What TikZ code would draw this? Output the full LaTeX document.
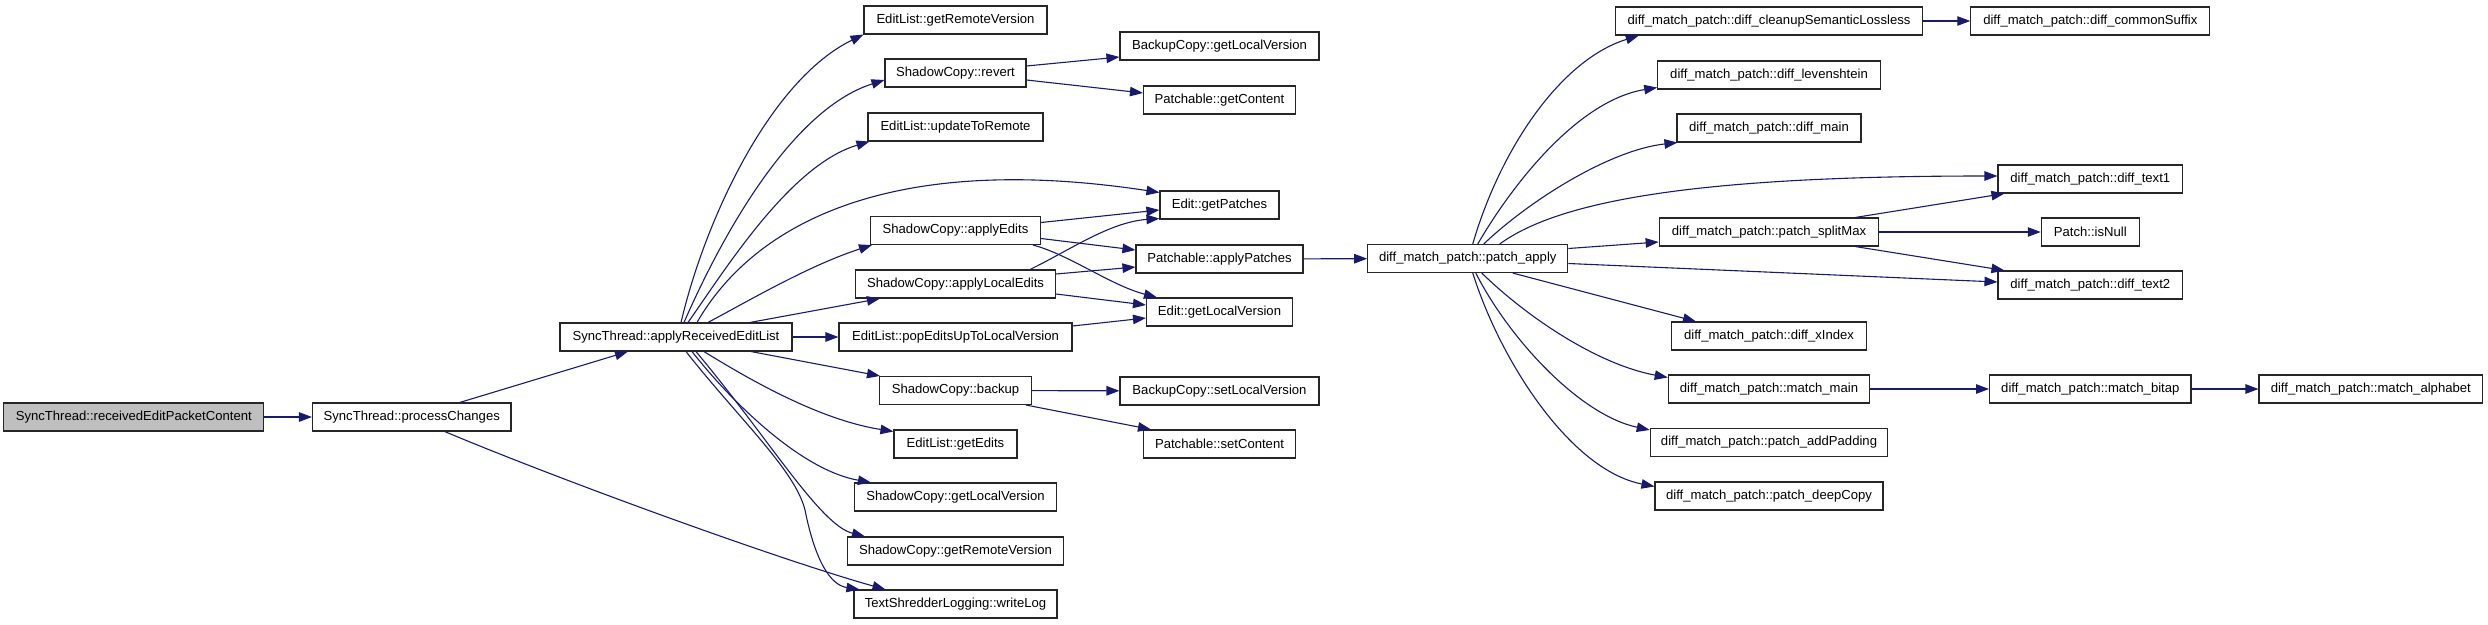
\documentclass[tikz,border=0pt]{standalone}
\usepackage{fontspec}
\setmainfont{Liberation Sans}
\usetikzlibrary{arrows.meta,calc}
\definecolor{edgec}{HTML}{191970}
\definecolor{rootfill}{HTML}{BFBFBF}
\begin{document}
\begin{tikzpicture}[x=1pt,y=-1pt,
  fn/.style={draw=black!85, line width=1.1pt, minimum height=28pt, inner sep=0pt,
             font=\fontsize{13.1}{15}\selectfont, anchor=center, fill=white},
  call/.style={draw=edgec, line width=1.1pt, -{Triangle[length=13pt,width=9.5pt]}}]
\useasboundingbox (0,0) rectangle (2488,624);

% column 0/1/2
\node[fn, fill=rootfill, minimum width=260] (rec) at (133.8,417) {SyncThread::receivedEditPacketContent};
\node[fn, minimum width=198.5] (pc) at (411.75,417) {SyncThread::processChanges};
\node[fn, minimum width=232] (ar) at (676,337) {SyncThread::applyReceivedEditList};

% column 3
\node[fn, minimum width=183] (grv) at (955.5,20) {EditList::getRemoteVersion};
\node[fn, minimum width=141] (rev) at (955.5,73) {ShadowCopy::revert};
\node[fn, minimum width=175] (utr) at (955.5,127) {EditList::updateToRemote};
\node[fn, minimum width=170] (ae) at (955.5,230.5) {ShadowCopy::applyEdits};
\node[fn, minimum width=200] (ale) at (955.5,284) {ShadowCopy::applyLocalEdits};
\node[fn, minimum width=233] (pop) at (955.5,337) {EditList::popEditsUpToLocalVersion};
\node[fn, minimum width=152] (bk) at (955.5,390.5) {ShadowCopy::backup};
\node[fn, minimum width=123] (ge) at (955.5,444) {EditList::getEdits};
\node[fn, minimum width=202] (sglv) at (955.5,497) {ShadowCopy::getLocalVersion};
\node[fn, minimum width=216] (sgrv) at (955.5,551) {ShadowCopy::getRemoteVersion};
\node[fn, minimum width=203] (wl) at (955.5,604) {TextShredderLogging::writeLog};

% column 4
\node[fn, minimum width=199] (bglv) at (1219.5,46) {BackupCopy::getLocalVersion};
\node[fn, minimum width=152] (pgc) at (1219.5,100) {Patchable::getContent};
\node[fn, minimum width=119] (gp) at (1219.5,205) {Edit::getPatches};
\node[fn, minimum width=167] (ap) at (1219.5,259) {Patchable::applyPatches};
\node[fn, minimum width=146] (elv) at (1219.5,312) {Edit::getLocalVersion};
\node[fn, minimum width=199] (bslv) at (1219.5,391) {BackupCopy::setLocalVersion};
\node[fn, minimum width=152] (psc) at (1219.5,444) {Patchable::setContent};

% column 5
\node[fn, minimum width=200] (pa) at (1467.75,258.5) {diff\_match\_patch::patch\_apply};

% column 6
\node[fn, minimum width=307.4] (csl) at (1769,21) {diff\_match\_patch::diff\_cleanupSemanticLossless};
\node[fn, minimum width=222.5] (lev) at (1769,75) {diff\_match\_patch::diff\_levenshtein};
\node[fn, minimum width=184] (dm) at (1769,128) {diff\_match\_patch::diff\_main};
\node[fn, minimum width=219.6] (sm) at (1769,232) {diff\_match\_patch::patch\_splitMax};
\node[fn, minimum width=195] (xi) at (1769,336) {diff\_match\_patch::diff\_xIndex};
\node[fn, minimum width=201.5] (mm) at (1769,389) {diff\_match\_patch::match\_main};
\node[fn, minimum width=237.5] (apad) at (1769,442.5) {diff\_match\_patch::patch\_addPadding};
\node[fn, minimum width=228] (dc) at (1769,496) {diff\_match\_patch::patch\_deepCopy};

% column 7
\node[fn, minimum width=239] (cs) at (2090.3,21) {diff\_match\_patch::diff\_commonSuffix};
\node[fn, minimum width=184.6] (t1) at (2090.3,179) {diff\_match\_patch::diff\_text1};
\node[fn, minimum width=98] (isn) at (2090.3,232) {Patch::isNull};
\node[fn, minimum width=184.6] (t2) at (2090.3,285) {diff\_match\_patch::diff\_text2};
\node[fn, minimum width=201.4] (mb) at (2090.3,389) {diff\_match\_patch::match\_bitap};

% column 8
\node[fn, minimum width=223.5] (mal) at (2370.75,389) {diff\_match\_patch::match\_alphabet};

% edges
\draw[call] (rec) -- (pc);
\draw[call] (pc) -- (ar);
\draw[call] ([xshift=33pt]pc.south) .. controls (560,480) and (780,560) .. ([xshift=32pt]wl.north west);

\draw[call] ([xshift=5pt]ar.north) .. controls (705,220) and (770,80) .. (grv.south west);
\draw[call] ([xshift=8pt]ar.north) .. controls (720,240) and (790,110) .. ([yshift=-7pt]rev.west);
\draw[call] ([xshift=12pt]ar.north) .. controls (725,270) and (790,165) .. ([xshift=2pt]utr.south west);
\draw[call] ([xshift=21pt]ar.north) .. controls (750,230) and (880,150) .. ([yshift=-2pt]gp.north west);
\draw[call] ([xshift=32pt]ar.north) .. controls (750,300) and (810,265) .. ([xshift=2pt]ae.south west);
\draw[call] ([xshift=74pt]ar.north) -- ([xshift=25pt]ale.south west);
\draw[call] (ar) -- (pop);
\draw[call] ([xshift=75pt]ar.south) -- ([xshift=1pt]bk.north west);
\draw[call] ([xshift=28pt]ar.south) .. controls (750,380) and (820,420) .. ([yshift=-2pt]ge.north west);
\draw[call] ([xshift=16pt]ar.south) .. controls (730,400) and (800,470) .. ([xshift=17pt]sglv.north west);
\draw[call] ([xshift=20pt]ar.south) .. controls (770,440) and (820,525) .. ([xshift=18pt]sgrv.north west);
\draw[call] ([xshift=10pt]ar.south) .. controls (740,420) and (795,470) .. (805,510)
            .. controls (815,560) and (830,585) .. ([xshift=6pt]wl.north west);

\draw[call] ([yshift=7pt]rev.east) -- ([yshift=-11pt]bglv.west);
\draw[call] ([yshift=-7pt]rev.east) -- ([yshift=7pt]pgc.west);
\draw[call] ([yshift=8pt]ae.east) -- ([yshift=-5pt]gp.west);
\draw[call] ([yshift=-8pt]ae.east) -- ([yshift=9pt]ap.west);
\draw[call] ([xshift=-8pt]ae.south east) .. controls (1070,255) and (1110,285) .. ([xshift=11pt]elv.north west);
\draw[call] ([xshift=-26pt]ale.north east) .. controls (1070,250) and (1110,222) .. ([yshift=1pt]gp.south west);
\draw[call] ([yshift=10pt]ale.east) -- ([yshift=-8pt]ap.west);
\draw[call] ([yshift=-10pt]ale.east) -- ([yshift=7pt]elv.west);
\draw[call] ([yshift=11pt]pop.east) -- ([yshift=-6pt]elv.west);
\draw[call] (bk) -- (bslv);
\draw[call] ([xshift=-6pt]bk.south east) -- ([xshift=8pt]psc.north west);
\draw[call] (ap) -- (pa);

\draw[call] ([xshift=5pt]pa.north) .. controls (1500,150) and (1560,60) .. ([xshift=24pt]csl.south west);
\draw[call] ([xshift=10pt]pa.north) .. controls (1515,180) and (1580,100) .. ([yshift=2pt]lev.south west);
\draw[call] ([xshift=16pt]pa.north) .. controls (1530,200) and (1610,150) .. ([xshift=1pt]dm.south west);
\draw[call] ([xshift=32pt]pa.north) .. controls (1560,200) and (1700,176) .. ([yshift=3pt]t1.west);
\draw[call] ([yshift=10pt]pa.east) -- ([yshift=-10pt]sm.west);
\draw[call] ([yshift=-5pt]pa.east) -- ([yshift=3pt]t2.west);
\draw[call] ([xshift=45pt]pa.south) -- ([xshift=25pt]xi.north west);
\draw[call] ([xshift=14pt]pa.south) .. controls (1530,320) and (1600,365) .. ([yshift=-3pt]mm.north west);
\draw[call] ([xshift=8pt]pa.south) .. controls (1510,340) and (1580,415) .. ([yshift=-2pt]apad.north west);
\draw[call] ([xshift=5pt]pa.south) .. controls (1500,360) and (1570,470) .. ([yshift=-5pt]dc.north west);

\draw[call] (csl) -- (cs);
\draw[call] ([xshift=-24pt]sm.north east) -- ([xshift=7pt]t1.south west);
\draw[call] (sm) -- (isn);
\draw[call] ([xshift=-24pt]sm.south east) -- ([xshift=7pt]t2.north west);
\draw[call] (mm) -- (mb);
\draw[call] (mb) -- (mal);
\end{tikzpicture}
\end{document}
